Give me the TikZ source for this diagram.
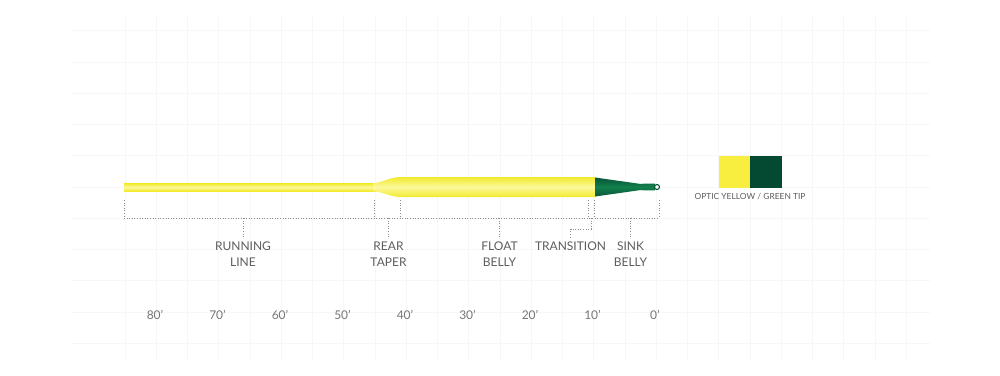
\documentclass[tikz,border=0pt]{standalone}
\usepackage{fontspec}
\setmainfont{Lato}
\definecolor{lineyel}{HTML}{F2EA2C}
\definecolor{lineyellight}{HTML}{FCF89C}
\definecolor{tipgreen}{HTML}{12804C}
\definecolor{tipdark}{HTML}{07553A}
\definecolor{legyel}{HTML}{F7EE3F}
\definecolor{leggreen}{HTML}{044A33}
\definecolor{txtgray}{HTML}{5E5E5E}
\definecolor{dotgray}{HTML}{8C8C8C}
\definecolor{gridgray}{HTML}{F7F7F7}
\begin{document}
\begin{tikzpicture}[x=1pt,y=-1pt,
  dots/.style={draw=dotgray, line width=0.9pt, dash pattern=on 0.9pt off 1.7pt},
  lbl/.style={font=\fontsize{12}{16.2}\selectfont, text=txtgray, align=center, inner sep=0pt, anchor=north},
  dist/.style={font=\fontsize{12}{14}\selectfont, text=txtgray!85, inner sep=0pt},
  legtxt/.style={font=\fontsize{8.4}{10}\selectfont, text=txtgray, inner sep=0pt},
  swatch/.style={minimum size=31.5pt, inner sep=0pt, anchor=north west},
  gridline/.style={draw=gridgray, line width=0.7pt}]
\useasboundingbox (0,0) rectangle (1000,375);
\fill[white] (0,0) rectangle (1000,375);
% faint background grid
\foreach \i in {0,...,25} \draw[gridline] ({125+31.25*\i},15) -- ({125+31.25*\i},360);
\foreach \j in {0,...,10} \draw[gridline] (72,{30.75+31.25*\j}) -- (930,{30.75+31.25*\j});
% running line
\path[shade, top color=lineyel, bottom color=lineyel, middle color=lineyellight]
  (124,183.5) rectangle (376,191);
% rear taper and float belly
\path[shade, top color=lineyel, bottom color=lineyel, middle color=lineyellight]
  (373,183.5) .. controls (385,181.5) and (390,177) .. (402,177) -- (595.5,177)
  -- (595.5,197) -- (402,197) .. controls (390,197) and (385,192.5) .. (373,191) -- cycle;
% green sink tip
\path[shade, top color=tipdark, bottom color=tipdark, middle color=tipgreen]
  (595,177.5) -- (641,184) -- (644,183.6) -- (655,183.6) -- (655,190.4) -- (644,190.4)
  -- (641,190) -- (595,196.5) -- cycle;
\draw[tipdark, line width=1.1pt, fill=white] (657,187) circle (2.5);
% brackets
\foreach \n/\x in {a/124,b/374,c/400,d/588,e/594.5,f/659} {
  \coordinate (tk-\n-top) at (\x,200);
  \coordinate (tk-\n-bot) at (\x,218);
  \draw[dots] (tk-\n-top) -- (tk-\n-bot);
}
\draw[dots] (tk-a-bot) -- (tk-f-bot);
% labels
\node[lbl] (running) at (243,241.5) {RUNNING\\LINE};
\node[lbl] (rear) at (388.5,241.5) {REAR\\TAPER};
\node[lbl] (float) at (499.5,241.5) {FLOAT\\BELLY};
\node[lbl] (transition) at (570.5,241.5) {TRANSITION};
\node[lbl] (sink) at (630.5,241.5) {SINK\\BELLY};
\coordinate (runj) at (243,218);
\coordinate (rearj) at (388.5,218);
\coordinate (floatj) at (499.5,218);
\coordinate (sinkj) at (630.5,218);
\coordinate (trj) at (591,218);
\coordinate (trk1) at (591,229);
\coordinate (trk2) at (570.5,229);
\draw[dots] (runj) -- ([yshift=4.5pt]running.north);
\draw[dots] (rearj) -- ([yshift=4.5pt]rear.north);
\draw[dots] (floatj) -- ([yshift=4.5pt]float.north);
\draw[dots] (sinkj) -- ([yshift=4.5pt]sink.north);
\draw[dots] (trj) -- (trk1) -- (trk2) -- ([yshift=4.5pt]transition.north);
% distance scale
\foreach \v in {80,70,60,50,40,30,20,10,0}
  \node[dist] (d\v) at ({655-6.25*\v},315) {\v'};
% legend
\node[swatch, fill=legyel] (legY) at (718.5,156) {};
\node[swatch, fill=leggreen] (legG) at (750,156) {};
\node[legtxt] (legT) at (750,197) {OPTIC YELLOW / GREEN TIP};
\end{tikzpicture}
\end{document}
